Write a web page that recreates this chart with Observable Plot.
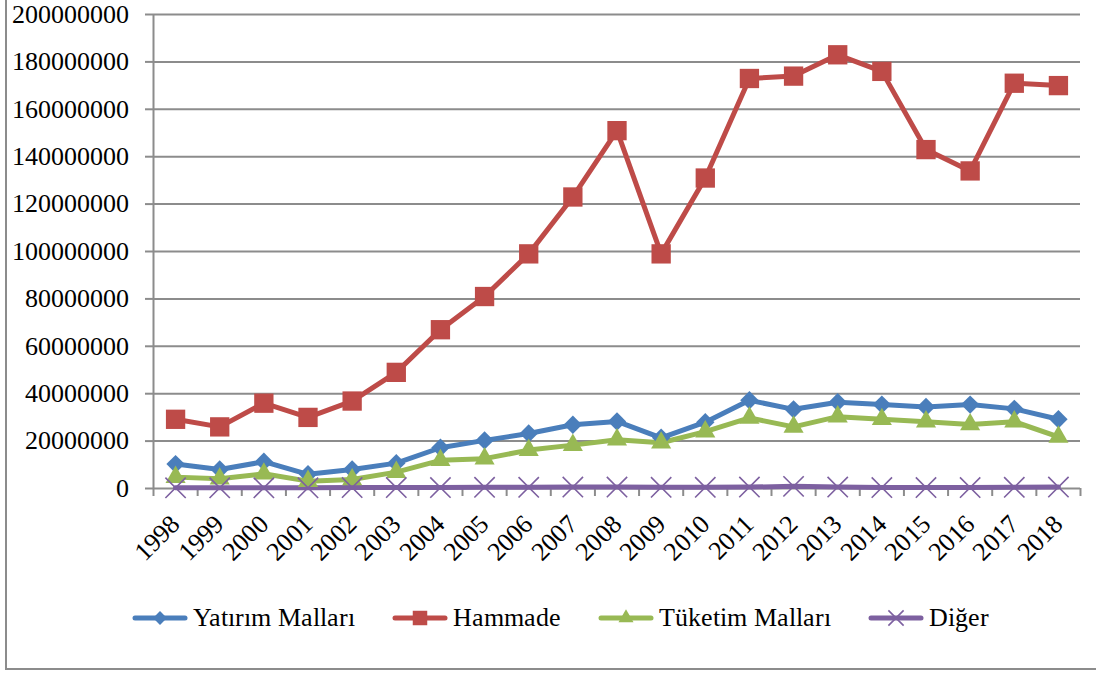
<!DOCTYPE html>
<html>
<head>
<meta charset="utf-8">
<script src="https://cdn.jsdelivr.net/npm/d3@7"></script>
<script src="https://cdn.jsdelivr.net/npm/@observablehq/plot@0.6"></script>
<style>
  @font-face { font-family: "ChartSerif"; src: local("Liberation Serif"), local("LiberationSerif"), local("Liberation Serif Regular"), local("LiberationSerif-Regular"); }
  html, body { margin: 0; padding: 0; background: #fff; }
  body { width: 1096px; height: 675px; position: relative; overflow: hidden; }
  #frame { position: absolute; left: 5px; top: -10px; width: 1200px; height: 680px; box-sizing: border-box; border-left: 2px solid #8c8c8c; border-bottom: 2px solid #8c8c8c; }
  #chart { position: absolute; left: 0; top: 0; }
  #legend { position: absolute; left: 132px; top: 602px; height: 32px; display: flex; gap: 37px; align-items: center; font-size: 26px; color: #000; }
  .item { display: flex; align-items: center; gap: 5px; white-space: nowrap; }
</style>
</head>
<body>
<div id="frame"></div>
<div id="chart"></div>
<div id="legend"></div>
<script>
const years = [1998, 1999, 2000, 2001, 2002, 2003, 2004, 2005, 2006, 2007, 2008, 2009, 2010, 2011, 2012, 2013, 2014, 2015, 2016, 2017, 2018];
const yatirimMallari = [10.3e6, 8.0e6, 11.3e6, 6.0e6, 8.0e6, 10.7e6, 17.2e6, 20.3e6, 23.2e6, 26.9e6, 28.3e6, 21.4e6, 28.0e6, 37.2e6, 33.4e6, 36.4e6, 35.4e6, 34.4e6, 35.4e6, 33.6e6, 29.2e6];
const hammade = [29.2e6, 26.0e6, 36.0e6, 30.0e6, 36.9e6, 49.0e6, 67.0e6, 81.0e6, 99.0e6, 123.0e6, 151.0e6, 99.0e6, 131.0e6, 173.0e6, 174.0e6, 183.0e6, 176.0e6, 143.0e6, 134.0e6, 171.0e6, 170.0e6];
const tuketimMallari = [4.8e6, 4.1e6, 6.2e6, 3.1e6, 3.8e6, 6.9e6, 11.9e6, 12.6e6, 16.2e6, 18.3e6, 20.6e6, 19.3e6, 24.0e6, 29.8e6, 26.0e6, 30.3e6, 29.2e6, 28.2e6, 27.0e6, 28.2e6, 21.8e6];
const diger = [0.3e6, 0.3e6, 0.3e6, 0.3e6, 0.4e6, 0.4e6, 0.4e6, 0.5e6, 0.5e6, 0.6e6, 0.6e6, 0.5e6, 0.5e6, 0.6e6, 0.9e6, 0.6e6, 0.4e6, 0.4e6, 0.4e6, 0.5e6, 0.6e6];
const yTicks = [0, 20000000, 40000000, 60000000, 80000000, 100000000, 120000000, 140000000, 160000000, 180000000, 200000000];

const seriesNames = ["Yatırım Malları", "Hammade", "Tüketim Malları", "Diğer"];
const seriesValues = [yatirimMallari, hammade, tuketimMallari, diger];
const seriesColors = ["#4a7ebb", "#be4b48", "#98b954", "#7d60a0"];
const seriesSymbols = ["diamond2", "square2", "triangle2", "times"];
const seriesR = [8.3, 12.3, 9.6, 9.3];

const FONT = "ChartSerif, 'Liberation Serif', cursive";
const GRID = "#8c8c8c";

const rows = [];
seriesNames.forEach((name, s) => {
  years.forEach((yr, i) => rows.push({series: name, year: yr, value: seriesValues[s][i]}));
});
const boundaries = [years[0] - 0.5, ...years.map(y => y + 0.5)];

const marks = [
  Plot.gridY(yTicks, {stroke: GRID, strokeOpacity: 1, strokeWidth: 2}),
  Plot.axisY(yTicks, {tickSize: 8, stroke: GRID, strokeWidth: 2, tickPadding: 17, fill: "#000", fontSize: 26, tickFormat: d => String(d), label: null}),
  Plot.ruleX([boundaries[0]], {stroke: GRID, strokeWidth: 2}),
  Plot.axisX(boundaries, {tickSize: 8, stroke: GRID, strokeWidth: 2, tickFormat: () => "", label: null}),
  Plot.text(years, {x: d => d, y: () => 0, text: d => String(d), rotate: -45, textAnchor: "end", dx: 0, dy: 31, fontSize: 26, fill: "#000"})
];
seriesNames.forEach((name, s) => {
  const data = rows.filter(r => r.series === name);
  marks.push(Plot.line(data, {x: "year", y: "value", stroke: seriesColors[s], strokeWidth: 5, strokeLinejoin: "round"}));
});
seriesNames.forEach((name, s) => {
  const data = rows.filter(r => r.series === name);
  if (seriesSymbols[s] === "times") {
    marks.push(Plot.dot(data, {x: "year", y: "value", symbol: "times", r: seriesR[s], stroke: seriesColors[s], strokeWidth: 1.6}));
  } else {
    marks.push(Plot.dot(data, {x: "year", y: "value", symbol: seriesSymbols[s], r: seriesR[s], fill: seriesColors[s], stroke: "none"}));
  }
});

const chart = Plot.plot({
  width: 1096,
  height: 600,
  marginLeft: 153,
  marginRight: 16,
  marginTop: 14,
  marginBottom: 112,
  style: {background: "transparent"},
  x: {type: "linear", domain: [boundaries[0], boundaries[boundaries.length - 1]], axis: null},
  y: {type: "linear", domain: [yTicks[0], yTicks[yTicks.length - 1]], axis: null},
  marks
});
document.getElementById("chart").appendChild(chart);

// Legend
const legend = document.getElementById("legend");
const symMap = {diamond2: d3.symbolDiamond2, square2: d3.symbolSquare2, triangle2: d3.symbolTriangle2, times: d3.symbolTimes};
seriesNames.forEach((name, s) => {
  const item = document.createElement("div");
  item.className = "item";
  const r = seriesR[s] * 0.75;
  const path = d3.symbol(symMap[seriesSymbols[s]], r * r * Math.PI)();
  const isTimes = seriesSymbols[s] === "times";
  item.innerHTML = `<svg width="56" height="24" viewBox="0 0 56 24"><line x1="3" y1="12" x2="53" y2="12" stroke="${seriesColors[s]}" stroke-width="5" stroke-linecap="round"/><path transform="translate(28,12)" d="${path}" fill="${isTimes ? "none" : seriesColors[s]}" stroke="${isTimes ? seriesColors[s] : "none"}" stroke-width="1.6"/></svg>`;
  const span = document.createElement("span");
  span.textContent = name;
  item.appendChild(span);
  legend.appendChild(item);
});

function applyFont() {
  chart.style.fontFamily = FONT;
  chart.querySelectorAll("g, text").forEach(t => { t.removeAttribute("font-family"); t.style.fontFamily = FONT; });
  legend.style.fontFamily = FONT;
  legend.querySelectorAll("span").forEach(sp => { sp.style.fontFamily = FONT; });
}
applyFont();
setTimeout(applyFont, 0);
requestAnimationFrame(applyFont);
window.addEventListener("load", applyFont);
</script>
</body>
</html>
